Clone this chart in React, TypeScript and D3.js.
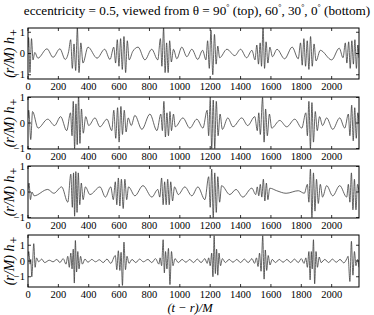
import React from "react";
import * as d3 from "d3";

// waveform extrema [t, h], one list per viewing angle
const wave90: [number, number][] = [
  [0, 0.3], [4, 0.75], [13, -0.9], [23, 0.7], [33, -0.3], [45, 0.05], [65, -0.22], [125, 0.22], [165, -0.18], [210, 0.22], [245, -0.28], [268, 0.1],
  [281, 0.65], [292, -0.7], [303, 0.45], [314, -0.8], [325, 1.2], [336, -0.9], [348, 0.5], [362, -0.45], [395, 0.3], [455, -0.22], [505, 0.2], [540, -0.28],
  [565, 0.3], [577, -0.45], [588, 0.65], [599, -0.6], [610, 0.7], [621, -0.75], [632, 0.8], [643, -0.9], [654, 0.6], [666, -0.3], [690, 0.1], [725, 0.3], [770, -0.3], [815, 0.2], [855, -0.3],
  [872, 0.7], [882, -0.6], [893, 1.2], [903, -0.9], [913, 0.5], [923, -0.9], [933, 0.6], [944, -0.4], [958, 0.2], [980, -0.25], [1013, 0.3], [1046, -0.15], [1079, 0.2], [1118, -0.28], [1150, 0.15],
  [1172, -0.3], [1183, 0.6], [1194, -0.7], [1205, 1.1], [1217, -1.0], [1228, 0.9], [1239, -0.5], [1250, 0.35], [1262, -0.2], [1310, 0.2], [1362, -0.1], [1400, 0.2], [1440, -0.2], [1475, 0.15],
  [1495, -0.3], [1507, 0.4], [1518, -0.5], [1529, 0.5], [1538, -0.6], [1548, 1.25], [1558, -0.7], [1568, 0.55], [1580, -0.45], [1593, 0.3], [1610, -0.15], [1640, 0.2], [1690, -0.25], [1740, 0.3], [1780, -0.25],
  [1795, 0.5], [1806, -0.55], [1817, 0.7], [1828, -0.6], [1839, 0.6], [1850, -0.75], [1861, 0.8], [1872, -0.6], [1884, 0.45], [1897, -0.35], [1925, 0.15], [2000, -0.3], [2050, 0.25], [2075, -0.2],
  [2090, 0.5], [2100, -0.45], [2112, 0.55], [2122, -0.7], [2133, 0.6], [2143, -0.5], [2153, 0.65], [2163, -0.7], [2172, 0.4], [2180, -0.2],
];

const wave60: [number, number][] = [
  [0, 0.2], [5, 0.5], [18, -0.65], [30, 0.45], [66, -0.2], [130, 0.15], [175, -0.1], [215, 0.25], [255, -0.3],
  [280, 0.4], [290, -0.5], [298, 0.85], [307, -1.0], [316, 0.75], [324, -0.85], [333, 1.1], [342, -0.8], [352, 0.55], [364, -0.4], [380, 0.25],
  [400, -0.1], [441, 0.2], [474, -0.15], [520, 0.15], [552, -0.3],
  [565, 0.5], [578, -0.6], [590, 0.6], [600, -0.75], [612, 0.65], [622, -0.45], [634, 0.5], [646, -0.35], [660, 0.2],
  [680, -0.1], [704, 0.3], [750, -0.25], [803, 0.35], [849, -0.3],
  [875, 0.35], [885, -0.3], [895, 0.85], [905, -0.55], [915, 0.4], [925, -0.5], [935, 0.45], [945, -0.3], [958, 0.35], [970, -0.15],
  [1020, 0.2], [1066, -0.2], [1112, 0.15], [1152, -0.2],
  [1180, 0.5], [1190, -0.5], [1200, 0.9], [1210, -1.0], [1220, 0.9], [1230, -1.0], [1240, 0.85], [1252, -0.5], [1265, 0.35], [1280, -0.25],
  [1316, 0.2], [1350, -0.15], [1408, 0.2], [1447, -0.1], [1494, 0.25],
  [1510, -0.3], [1520, 0.4], [1530, -0.45], [1545, 1.0], [1555, -0.75], [1565, 0.55], [1576, -0.5], [1590, 0.35], [1605, -0.2],
  [1658, 0.1], [1704, -0.15], [1757, 0.15], [1803, -0.2],
  [1830, 0.4], [1840, -0.5], [1850, 0.85], [1860, -1.0], [1870, 0.8], [1880, -0.75], [1892, 0.45], [1905, -0.3], [1920, 0.25],
  [1940, -0.1], [1967, 0.2], [2007, -0.25], [2053, 0.2], [2086, -0.2],
  [2110, 0.35], [2120, -0.5], [2132, 0.7], [2142, -0.7], [2152, 0.6], [2162, -0.6], [2172, 0.4], [2180, 0],
];

const wave30: [number, number][] = [
  [0, 0.1], [7, 0.35], [16, -0.3], [26, 0.0], [40, -0.15], [130, 0.1], [170, -0.05], [222, 0.2], [262, -0.4],
  [282, 0.7], [292, -0.6], [300, 0.75], [307, -0.95], [315, 0.8], [323, -0.8], [331, 0.75], [341, -0.5], [351, 0.35], [363, -0.3], [378, 0.2],
  [408, -0.1], [474, 0.2], [510, -0.2], [545, 0.2], [562, -0.3],
  [575, 0.4], [585, -0.5], [595, 0.55], [605, -0.55], [615, 0.5], [627, -0.65], [638, 0.5], [650, -0.3], [662, 0.2],
  [704, -0.15], [757, 0.25], [816, -0.2], [855, 0.1],
  [868, -0.2], [880, 0.55], [890, -0.5], [900, 0.4], [910, -0.5], [920, 0.5], [930, -0.5], [940, 0.4], [952, -0.35], [965, 0.2],
  [990, -0.1], [1033, 0.2], [1079, -0.15], [1119, 0.2], [1165, -0.3],
  [1190, 0.6], [1200, -0.6], [1210, 0.9], [1220, -1.0], [1230, 0.75], [1240, -0.8], [1250, 0.6], [1262, -0.4], [1275, 0.25],
  [1329, -0.1], [1370, 0.1], [1415, -0.2], [1474, 0.15],
  [1500, -0.1], [1510, 0.2], [1520, -0.15], [1530, 0.3], [1540, -0.2], [1550, 0.5], [1560, -0.35], [1570, 0.35], [1580, -0.3], [1592, 0.15],
  [1638, 0.05], [1700, -0.05], [1780, 0.05], [1820, -0.05],
  [1840, 0.3], [1850, -0.4], [1860, 0.9], [1870, -1.0], [1880, 0.75], [1890, -0.75], [1900, 0.5], [1912, -0.45], [1925, 0.3], [1940, -0.2],
  [1967, 0.25], [2007, -0.15], [2053, 0.25], [2099, -0.2],
  [2110, 0.3], [2120, -0.4], [2130, 0.75], [2140, -0.7], [2150, 0.5], [2160, -0.7], [2170, 0.3], [2180, 0],
];

const wave0: [number, number][] = [
  [0, 0.3], [5, 0.6], [14, -0.2], [18, 0.1], [25, -1.0], [38, 1.1], [47, -0.4], [56, 0.2], [70, -0.05], [90, 0.12], [110, -0.1], [140, 0.05], [165, -0.05], [190, 0.1], [210, -0.1], [232, 0.15], [250, -0.2],
  [262, 0.3], [272, -0.4], [282, 0.5], [290, -0.5], [298, 0.75], [305, -1.4], [312, 1.3], [320, -0.7], [328, 0.6], [336, -0.5], [346, 0.3], [358, -0.2],
  [375, 0.12], [395, -0.08], [420, 0.1], [445, -0.05], [470, 0.08], [495, -0.1], [520, 0.12], [545, -0.15],
  [575, 0.35], [585, -0.55], [595, 0.65], [605, -0.6], [613, 0.55], [622, -1.55], [632, 1.2], [642, -0.55], [652, 0.3], [665, -0.15],
  [685, 0.1], [710, -0.1], [735, 0.12], [760, -0.05], [790, 0.1], [815, -0.1], [840, 0.15], [862, -0.2],
  [870, 0.2], [880, -0.3], [890, 1.35], [898, -0.75], [906, 0.6], [915, -0.5], [925, 0.8], [935, -1.5], [945, 0.6], [955, -0.3], [968, 0.15],
  [990, -0.1], [1015, 0.1], [1040, -0.08], [1065, 0.1], [1090, -0.1], [1115, 0.12], [1140, -0.1], [1165, 0.15], [1180, -0.15],
  [1190, 0.2], [1200, -0.3], [1210, 0.5], [1218, -1.0], [1226, 1.6], [1234, -0.8], [1242, 0.75], [1250, -0.9], [1258, 0.5], [1268, -0.3], [1280, 0.15],
  [1300, -0.1], [1325, 0.1], [1350, -0.08], [1375, 0.1], [1400, -0.1], [1425, 0.12], [1450, -0.1], [1475, 0.15], [1492, -0.15],
  [1505, 0.2], [1515, -0.35], [1525, 0.5], [1535, -0.65], [1546, 1.6], [1555, -1.15], [1563, 0.7], [1572, -0.6], [1582, 0.35], [1594, -0.25], [1608, 0.1],
  [1630, -0.1], [1655, 0.1], [1680, -0.08], [1705, 0.1], [1730, -0.1], [1755, 0.12], [1780, -0.1], [1800, 0.15], [1818, -0.15],
  [1830, 0.2], [1840, -0.4], [1850, 0.6], [1858, -1.2], [1866, 0.6], [1872, -0.5], [1880, 1.35], [1888, -1.45], [1897, 0.6], [1906, -0.4], [1918, 0.25], [1930, -0.1],
  [1955, 0.1], [1980, -0.1], [2005, 0.12], [2030, -0.08], [2055, 0.1], [2080, -0.12], [2100, 0.15],
  [2108, 0.3], [2120, -1.3], [2130, 1.25], [2140, -0.9], [2150, 0.6], [2160, -0.3], [2170, 0.1], [2180, -0.4],
];

const xTicks = [0, 200, 400, 600, 800, 1000, 1200, 1400, 1600, 1800, 2000];
const yTicks = [-1, 0, 1];
const yTickLabels = ["\u22121", "0", "1"];
const xDomain = [0, 2180];
const yLimits = [1.2, 1.02, 1.02, 1.65];
const waves = [wave90, wave60, wave30, wave0];

const W = 374;
const H = 315;
const left = 28;
const right = 359;
const tops = [28, 97, 166, 235];
const bottoms = [79, 149, 218, 287];
const font = "'Liberation Serif', 'DejaVu Serif', serif";

export default function App() {
  const x = d3.scaleLinear().domain(xDomain).range([left, right]);
  return (
    <svg width={W} height={H} style={{ position: "absolute", left: 0, top: 0, background: "#fff" }} fontFamily={font}>
      <text x={197} y={15} textAnchor="middle" fontSize={13.2}>
        eccentricity = 0.5, viewed from θ = 90<tspan dy={-5} fontSize={8}>°</tspan>
        <tspan dy={5}> (top), 60</tspan><tspan dy={-5} fontSize={8}>°</tspan>
        <tspan dy={5}>, 30</tspan><tspan dy={-5} fontSize={8}>°</tspan>
        <tspan dy={5}>, 0</tspan><tspan dy={-5} fontSize={8}>°</tspan>
        <tspan dy={5}> (bottom)</tspan>
      </text>
      {waves.map((w, i) => {
        const top = tops[i];
        const bot = bottoms[i];
        const lim = yLimits[i];
        const y = d3.scaleLinear().domain([-lim, lim]).range([bot, top]);
        const line = d3
          .line<[number, number]>()
          .x((d) => x(d[0]))
          .y((d) => y(d[1]))
          .curve(d3.curveMonotoneX);
        const cid = `clip${i}`;
        const midY = (top + bot) / 2;
        return (
          <g key={i}>
            <clipPath id={cid}>
              <rect x={left} y={top} width={right - left} height={bot - top} />
            </clipPath>
            <path d={line(w) || ""} fill="none" stroke="#333" strokeWidth={0.75} clipPath={`url(#${cid})`} />
            <rect x={left} y={top} width={right - left} height={bot - top} fill="none" stroke="#000" strokeWidth={1} />
            {xTicks.map((t) => (
              <g key={t}>
                <line x1={x(t)} x2={x(t)} y1={bot} y2={bot - 3} stroke="#000" strokeWidth={0.8} />
                <line x1={x(t)} x2={x(t)} y1={top} y2={top + 3} stroke="#000" strokeWidth={0.8} />
                <text x={x(t)} y={bot + 10.5} textAnchor="middle" fontSize={10.5}>
                  {t}
                </text>
              </g>
            ))}
            {yTicks.map((v, k) => (
              <g key={v}>
                <line x1={left} x2={left + 3} y1={y(v)} y2={y(v)} stroke="#000" strokeWidth={0.8} />
                <line x1={right} x2={right - 3} y1={y(v)} y2={y(v)} stroke="#000" strokeWidth={0.8} />
                <text x={left - 3} y={y(v) + 3.5} textAnchor="end" fontSize={10.5}>
                  {yTickLabels[k]}
                </text>
              </g>
            ))}
            <text transform={`translate(14,${midY}) rotate(-90)`} textAnchor="middle" fontSize={14} fontStyle="italic">
              (r/M) h<tspan dy={4} dx={1} fontSize={12} fontStyle="normal">+</tspan>
            </text>
          </g>
        );
      })}
      <text x={190} y={312} textAnchor="middle" fontSize={12.5} fontStyle="italic">
        (t − r)/M
      </text>
    </svg>
  );
}
